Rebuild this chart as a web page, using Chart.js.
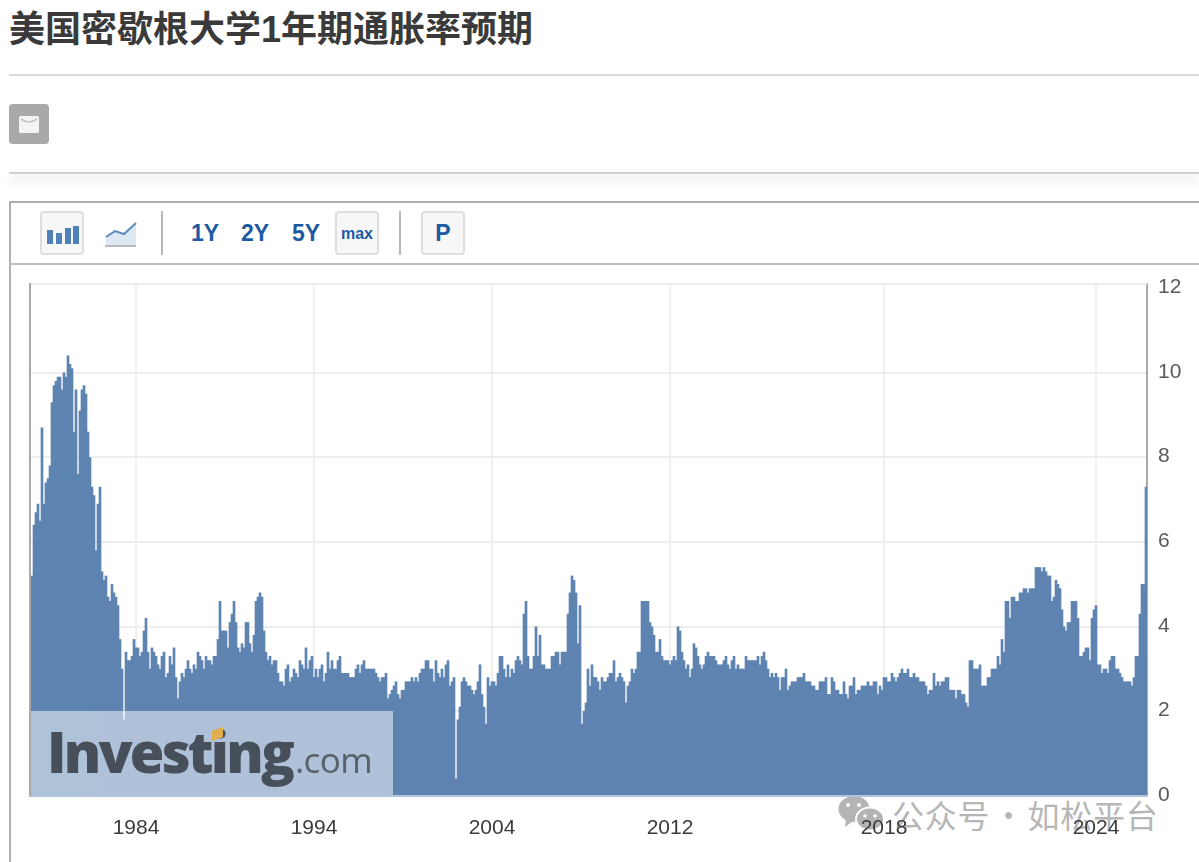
<!DOCTYPE html>
<html lang="zh">
<head>
<meta charset="utf-8">
<title>美国密歇根大学1年期通胀率预期</title>
<script src="https://cdn.jsdelivr.net/npm/chart.js@4"></script>
<style>
html,body{margin:0;padding:0;background:#fff;width:1199px;height:862px;overflow:hidden;font-family:"Liberation Sans","Noto Sans CJK SC",sans-serif}
.abs{position:absolute}
#title{left:9px;top:8px;font-size:36px;line-height:44px;font-weight:700;color:#3a3a3a;white-space:nowrap}
.hr{left:9px;right:0;height:2px;background:#d9d9d9}
#shadow{left:9px;right:0;top:172px;height:2px;background:#d0d0d0;box-shadow:0 5px 10px rgba(0,0,0,.22)}
#mail{left:9px;top:104px;width:40px;height:40px;background:#a9a9a9;border-radius:4px}
#frame{left:9px;top:201px;right:-4px;height:661px;border:2px solid #b0b0b0;border-bottom:none;box-sizing:border-box}
#tbline{left:10px;right:0;top:263px;height:2px;background:#bdbdbd}
.btn{top:211px;width:44px;height:44px;background:#f7f7f7;border:2px solid #dedede;border-radius:4px;box-sizing:border-box;text-align:center;color:#1c5aa3;font-weight:700}
.div{top:211px;width:2px;height:44px;background:#b8b8b8}
.rng{top:218px;font-size:23px;line-height:30px;font-weight:700;color:#1c5aa3}
#canvas{position:absolute;left:0;top:0;z-index:2}
#logo{left:31px;top:711px;width:362px;height:84px;background:rgba(255,255,255,.5);z-index:3;overflow:hidden}
#logoText{left:16px;top:5px;font-family:"Open Sans","Liberation Sans",sans-serif;font-size:56px;line-height:70px;font-weight:800;letter-spacing:-2.8px;color:#474f5a;white-space:nowrap}
#logoCom{font-weight:400;font-size:35px;letter-spacing:-.6px;color:#59616b;margin-left:3px}
#chip{left:181px;top:18px;width:11px;height:10px;background:#e0ad4f;transform:skewY(-18deg);z-index:4}
#wm{left:892px;top:792px;font-family:"Noto Sans CJK SC",sans-serif;font-size:32px;line-height:44px;color:#b6b6b6;white-space:nowrap;letter-spacing:.7px;word-spacing:-5.5px}
</style>
</head>
<body>
<div class="abs" id="title">美国密歇根大学1年期通胀率预期</div>
<div class="abs hr" style="top:74px"></div>
<div class="abs" id="mail"><svg width="40" height="40"><rect x="10" y="12" width="20" height="17" rx="1.5" fill="#f4f4f4"/><path d="M12 15q8 6 16 0" stroke="#c4c4c4" stroke-width="1.6" fill="none"/></svg></div>
<div class="abs" id="shadow"></div>
<div class="abs" id="frame"></div>
<div class="abs" id="tbline"></div>
<div class="abs btn" style="left:40px"><svg width="40" height="40"><g fill="#4f81b8"><rect x="5" y="17" width="6" height="14"/><rect x="14" y="20" width="6" height="11"/><rect x="23" y="15" width="6" height="16"/><rect x="31" y="13" width="6" height="18"/></g></svg></div>
<div class="abs" style="left:104px;top:220px"><svg width="34" height="30"><path d="M2 17L11 11L20 14L32 3V27H2Z" fill="#dde7f2"/><path d="M2 17L11 11L20 14L32 3" stroke="#5b8bbd" stroke-width="2" fill="none"/><rect x="1" y="25" width="31" height="2" fill="#b9b9b9"/></svg></div>
<div class="abs div" style="left:161px"></div>
<div class="abs rng" style="left:191px">1Y</div>
<div class="abs rng" style="left:241px">2Y</div>
<div class="abs rng" style="left:292px">5Y</div>
<div class="abs btn" style="left:335px;font-size:16px;line-height:41px">max</div>
<div class="abs div" style="left:399px"></div>
<div class="abs btn" style="left:421px;font-size:23px;line-height:40px">P</div>
<div class="abs" id="wm">公众号 · 如松平台</div>
<div class="abs" style="left:838px;top:796px"><svg width="46" height="35"><ellipse cx="16" cy="13" rx="15.5" ry="13" fill="#b4b4b4"/><path d="M8 22L7 31L15 25Z" fill="#b4b4b4"/><circle cx="10" cy="9" r="2" fill="#fff"/><circle cx="21" cy="9" r="2" fill="#fff"/><ellipse cx="32" cy="23" rx="14" ry="11.5" fill="#b4b4b4" stroke="#fff" stroke-width="2"/><circle cx="27" cy="20" r="1.8" fill="#fff"/><circle cx="37" cy="20" r="1.8" fill="#fff"/></svg></div>
<canvas id="canvas" width="1199" height="862"></canvas>
<div class="abs" id="logo"><div class="abs" id="logoText">Investing<span id="logoCom">.com</span></div><div class="abs" id="chip"></div></div>
<script>
const values1978 = [5.2,6.4,6.7,6.9,6.5,8.7,6.9,7.4,7.5,7.8,9.3,9.7,9.8,9.9,9.9,9.6,10.0,9.9,10.4,10.2,10.1,8.6,9.6,7.6,9.1,9.6,9.7,9.5,8.6,8.0,7.3,7.1,5.8,6.9,7.3,5.3,5.1,5.2,4.7,4.6,5.0,4.8,4.7,4.5,3.7,3.0,1.8,3.4,3.2,3.2,3.3,3.7,3.5,3.5,3.3,3.4,3.9,4.2,3.4,3.0,3.5,3.4,3.3,3.1,3.0,3.3,3.4,2.8,2.9,3.3,3.1,3.5,2.8,2.3,2.7,2.9,2.8,3.0,3.2,3.0,2.9,3.1,3.0,3.4,3.3,3.2,3.0,3.3,3.2,3.2,3.1,3.3,3.3,3.7,4.6,3.9,3.9,3.9,3.5,4.1,4.3,4.6,4.1,3.5,3.4,3.6,3.5,4.1,4.1,3.6,3.4,3.8,4.6,4.7,4.8,4.7,3.9,3.4,3.2,3.3,3.1,3.2,3.2,2.9,2.7,2.7,2.6,3.0,3.1,2.7,2.8,3.0,2.9,2.8,3.2];
const values1992 = [3.1,3.0,3.5,3.0,3.2,3.3,2.8,3.0,2.8,3.0,3.1,2.7,2.9,3.4,3.0,3.2,3.0,3.0,3.2,3.3,2.9,2.9,2.9,2.9,2.8,2.8,2.8,3.0,3.1,2.9,3.1,3.2,3.0,3.0,3.0,3.0,3.0,2.9,2.8,2.7,2.8,2.8,2.9,2.3,2.4,2.5,2.6,2.7,2.4,2.3,2.5,2.5,2.7,2.7,2.7,2.8,2.7,2.8,2.7,2.9,3.0,3.0,3.2,3.2,3.0,3.0,2.7,3.2,2.9,2.8,3.0,2.8,3.1,3.2,2.6,2.7,2.8,0.4,1.8,2.1,2.7,2.8,2.7,2.6,2.6,2.5,2.4,2.5,2.7,3.1,2.4,2.1,1.7,2.8,2.6,2.7,2.7,2.6,2.9,3.3,3.3,3.0,2.8,3.1,2.8,3.0,2.9,3.2,3.3,3.2,3.1,4.3,4.6,3.3,3.0,3.0,3.3,4.0,3.3,3.8,3.1,3.1,3.0,3.0,3.0,3.3,3.3,3.4,3.4,3.1];
const values2008 = [3.4,3.4,3.4,4.3,4.8,5.2,5.1,4.8,3.6,4.5,1.7,2.0,2.2,3.0,2.6,3.1,2.8,2.8,2.7,2.5,2.8,2.7,2.7,2.8,2.9,2.9,3.2,2.7,2.8,2.9,2.8,2.7,2.2,2.6,2.7,3.0,2.9,3.0,3.4,3.4,4.6,4.6,4.6,4.6,4.1,4.0,3.8,3.4,3.4,3.7,3.3,3.2,3.2,3.2,3.1,3.2,3.3,3.2,4.0,3.9,3.4,3.2,3.0,3.1,2.8,3.0,3.6,3.5,3.3,3.1,3.0,3.1,3.3,3.4,3.3,3.3,3.3,3.2,3.1,3.1,3.1,3.2,3.3,3.1,3.0,3.2,3.3,3.0,3.1,3.0,3.0,3.0,3.3,3.2,3.2,3.2,3.2,3.2,3.3,3.1,3.3,3.4,3.2,3.0,2.8,2.9,2.8,2.9,2.8,2.5,2.8,2.8,3.0,2.5,2.6,2.7,2.7,2.7,2.8,2.8,2.8,2.9,2.7,2.7,2.7,2.6,2.6,2.5,2.5,2.7,2.7,2.7,2.8,2.4,2.4,2.8,2.7,2.5,2.5,2.4,2.4,2.7,2.4,2.3,2.6];
const values2018 = [2.6,2.8,2.4,2.5,2.5,2.6,2.6,2.6,2.7,2.6,2.6,2.7,2.7,2.4,2.6,2.5,2.8,2.8,2.7,2.7,2.9,2.8,2.7,2.8,2.9,3.0,2.9,2.9,3.0,2.8,2.8,2.9,2.8,2.8,2.7,2.7,2.7,2.6,2.4,2.5,2.5,2.9,2.6,2.7,2.6,2.7,2.7,2.8,2.8,2.5,2.5,2.5,2.3,2.5,2.5,2.4,2.4,2.2,2.1,3.2,3.2,3.0,3.0,3.0,3.1,2.6,2.6,2.6,2.8,2.8,3.0,3.0,3.0,3.3,3.1,3.7,3.4,4.6,4.6,4.2,4.7,4.7,4.6,4.6,4.8,4.8,4.9,4.9,4.8,4.9,4.9,4.9,5.4,5.4,5.4,5.3,5.4,5.3,5.2,5.2,4.6,4.7,5.1,5.0,4.9,4.4,4.0,3.9,4.1,4.1,4.6,4.6,4.6,4.2,3.3,3.3,3.4,3.5,3.5,3.2,4.2,4.4,4.5,3.1,3.1,2.9,3.0,3.0,2.9,3.2,3.3,3.3,3.0,3.0,2.9,2.8,2.7,2.7,2.7,2.7,2.6,2.8,3.3,3.3,4.3,5.0,5.0,7.3];
const tickYears = ['1984','1994','2004','2012','2018','2024'];
const tickPositions = [52,141,230,319,426,532];
const yTicks = [0,2,4,6,8,10,12];

const expectation = [...values1978,...values1992,...values2008,...values2018];
const categories = expectation.map((_,i)=>{const p=tickPositions.indexOf(i);return p>=0?tickYears[p]:String(i);});

const FONT='"Liberation Sans","Arial",sans-serif';
const frame={id:'frame',beforeDatasetsDraw(c){const a=c.chartArea,x=c.ctx;x.save();x.fillStyle='#eeeeee';x.fillRect(a.left,a.top-1,a.width,2);x.restore();},
 afterDatasetsDraw(c){const a=c.chartArea,x=c.ctx;x.save();x.fillStyle='#a9a9a9';x.fillRect(a.left-2,a.top-1,2,a.bottom-a.top+2);x.restore();}};

new Chart(document.getElementById('canvas'),{
 type:'bar',
 data:{labels:categories,datasets:[{data:expectation,backgroundColor:'#5e84b0',borderWidth:0,barPercentage:1,categoryPercentage:1}]},
 options:{
  responsive:false,animation:false,
  layout:{padding:{left:31,top:284,right:0,bottom:0}},
  plugins:{legend:{display:false},tooltip:{enabled:false},title:{display:false}},
  scales:{
   x:{type:'category',
    grid:{offset:false,color:'#efefef',lineWidth:2,drawTicks:false},
    border:{color:'#b1c5dd',width:2,z:3},
    afterBuildTicks(s){s.ticks=tickPositions.map(v=>({value:v}));},
    afterFit(s){s.height=66;},
    ticks:{autoSkip:false,maxRotation:0,minRotation:0,padding:20,color:'#3b3b3b',font:{family:FONT,size:21}}
   },
   y:{position:'right',min:0,max:12.1,
    grid:{color:ctx=>ctx.tick&&ctx.tick.value===12?'rgba(0,0,0,0)':'#eeeeee',lineWidth:2,drawTicks:false},
    border:{color:'#a9a9a9',width:2},
    afterBuildTicks(s){s.ticks=yTicks.map(v=>({value:v}));},
    afterFit(s){s.width=52;},
    ticks:{padding:11,color:'#5a5a5a',labelOffset:-1,font:{family:FONT,size:21}}
   }
  }
 },
 plugins:[frame]
});
</script>
</body>
</html>
